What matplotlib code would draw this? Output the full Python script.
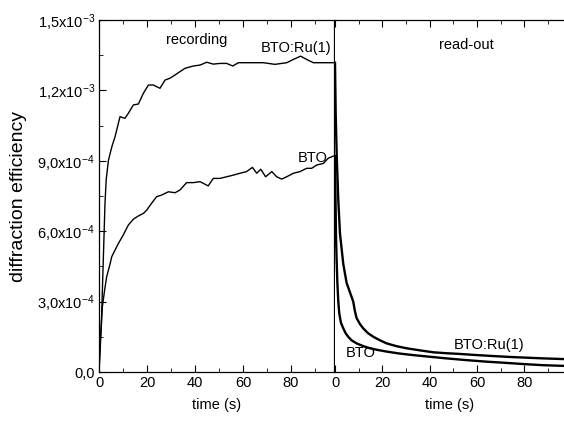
import numpy as np
import matplotlib
matplotlib.use("Agg")
import matplotlib.pyplot as plt
from matplotlib import font_manager
from matplotlib.ticker import FixedLocator, FixedFormatter, MultipleLocator

# the original uses a tall, narrow sans; take the narrow Liberation face if it is there
try:
    font_manager.findfont("Liberation Sans Narrow", fallback_to_default=False)
    fam, fs, fs_lab = "Liberation Sans Narrow", 12.5, 15
except ValueError:
    fam, fs, fs_lab = "Liberation Sans", 10.5, 14

plt.rcParams["font.family"] = [fam, "DejaVu Sans"]
plt.rcParams["mathtext.fontset"] = "custom"
plt.rcParams["mathtext.rm"] = fam
plt.rcParams["mathtext.it"] = fam
plt.rcParams["font.size"] = fs

# recording (left panel), values in units of 1e-3
rec_t_ru = [0, 0.5, 1.0, 1.5, 2.0, 2.5, 3.0, 3.9, 4.6, 5.5, 6.7, 8.75, 10.8, 12.2, 14.3,
            16.4, 18.5, 20.6, 22.6, 25.4, 27.5, 29.6, 31.7, 35.8, 39.3, 42.1, 44.9,
            47.6, 50.4, 53.2, 55.7, 58.1, 62.9, 68.5, 73.3, 78.2, 81.0, 84.0, 86.5,
            89.3, 93.5, 97.6]
rec_v_ru = [0, 0.10, 0.20, 0.38, 0.55, 0.72, 0.82, 0.90, 0.93, 0.965, 1.003, 1.088,
            1.081, 1.102, 1.138, 1.142, 1.188, 1.223, 1.223, 1.209, 1.244, 1.252,
            1.266, 1.294, 1.304, 1.308, 1.320, 1.312, 1.315, 1.315, 1.304, 1.318,
            1.318, 1.318, 1.311, 1.318, 1.332, 1.346, 1.332, 1.318, 1.318, 1.318]

rec_t_bto = [0, 0.5, 1.4, 2.5, 3.2, 4.6, 5.3, 6.7, 8.1, 10.1, 12.2, 14.3, 16.4, 18.5,
             19.9, 21.9, 24.0, 26.1, 28.9, 31.7, 33.8, 36.5, 39.3, 42.1, 45.5, 47.6,
             50.4, 53.2, 56.0, 58.75, 61.5, 63.9, 65.7, 67.4, 69.4, 72.0, 74.0, 76.1,
             78.2, 81.0, 83.75, 86.5, 88.6, 90.7, 93.5, 95.5, 97.6]
rec_v_bto = [0, 0.13, 0.278, 0.36, 0.406, 0.46, 0.491, 0.52, 0.548, 0.584, 0.626,
             0.651, 0.665, 0.676, 0.690, 0.719, 0.747, 0.754, 0.768, 0.764, 0.776,
             0.807, 0.807, 0.811, 0.793, 0.825, 0.825, 0.832, 0.839, 0.847, 0.854,
             0.872, 0.847, 0.864, 0.832, 0.854, 0.832, 0.822, 0.832, 0.847, 0.854,
             0.868, 0.868, 0.882, 0.889, 0.911, 0.920]

# read-out (right panel)
read_t_ru = [0, 0.3, 0.7, 1.4, 2.1, 3.5, 4.9, 6.3, 7.0, 7.7, 8.4, 9.1, 10.5, 11.9, 14,
             16.2, 19, 21.8, 26, 30.3, 36, 41.5, 47, 52.7, 60, 66.8, 74, 80.9, 88, 96.7]
read_v_ru = [1.318, 1.10, 0.93, 0.73, 0.59, 0.46, 0.38, 0.34, 0.32, 0.30, 0.26, 0.23,
             0.205, 0.186, 0.165, 0.150, 0.135, 0.122, 0.110, 0.101, 0.092, 0.084,
             0.080, 0.077, 0.072, 0.068, 0.064, 0.061, 0.058, 0.055]

read_t_bto = [0, 0.2, 0.4, 0.7, 1.0, 1.4, 1.8, 2.5, 3.5, 4.5, 5.6, 7, 9.1, 12, 14.8, 18,
              21.8, 27, 33, 40, 47.1, 55, 64, 72, 80.9, 88, 96.7]
read_v_bto = [0.92, 0.75, 0.59, 0.47, 0.38, 0.30, 0.25, 0.21, 0.186, 0.165, 0.150,
              0.135, 0.122, 0.110, 0.101, 0.094, 0.087, 0.079, 0.072, 0.065, 0.058,
              0.051, 0.044, 0.039, 0.033, 0.029, 0.026]

y_ticks = [0, 3e-4, 6e-4, 9e-4, 1.2e-3, 1.5e-3]
y_labels = ["0,0", "3,0x10$^{-4}$", "6,0x10$^{-4}$", "9,0x10$^{-4}$",
            "1,2x10$^{-3}$", "1,5x10$^{-3}$"]
x_ticks = [0, 20, 40, 60, 80]

fig = plt.figure(figsize=(5.64, 4.32), dpi=100)
ax1 = fig.add_axes([99 / 564, 60 / 432, 235 / 564, 352 / 432])
ax2 = fig.add_axes([335 / 564, 60 / 432, 229 / 564, 352 / 432])

ax1.plot(rec_t_ru, np.array(rec_v_ru) * 1e-3, color="black", lw=1.0)
ax1.plot(rec_t_bto, np.array(rec_v_bto) * 1e-3, color="black", lw=1.0)
ax2.plot(read_t_ru, np.array(read_v_ru) * 1e-3, color="black", lw=1.7)
ax2.plot(read_t_bto, np.array(read_v_bto) * 1e-3, color="black", lw=1.7)

for ax in (ax1, ax2):
    ax.set_ylim(0, 1.5e-3)
    ax.xaxis.set_major_locator(FixedLocator(x_ticks))
    ax.xaxis.set_minor_locator(MultipleLocator(10))
    ax.tick_params(axis="x", which="both", direction="in", top=True, pad=3)
    ax.tick_params(which="major", length=5)
    ax.tick_params(which="minor", length=3)
    ax.set_xlabel("time (s)", labelpad=6)
    for s in ax.spines.values():
        s.set_linewidth(0.9)

ax1.set_xlim(0, 97.9)
ax2.set_xlim(0, 96.7)

ax1.yaxis.set_major_locator(FixedLocator(y_ticks))
ax1.yaxis.set_major_formatter(FixedFormatter(y_labels))
ax1.yaxis.set_minor_locator(MultipleLocator(1.5e-4))
ax1.tick_params(axis="y", which="both", direction="in", right=False, pad=3)
ax1.set_ylabel("diffraction efficiency", fontsize=fs_lab)
ax1.yaxis.set_label_coords(-0.305, 0.5)

ax2.spines["left"].set_visible(False)
ax2.spines["right"].set_visible(False)
ax2.tick_params(axis="y", which="both", left=False, right=False, labelleft=False)

ax1.text(40.8, 1.415e-3, "recording", ha="center", va="center")
ax1.text(82, 1.381e-3, "BTO:Ru(1)", ha="center", va="center")
ax1.text(95.4, 0.91e-3, "BTO", ha="right", va="center")
ax2.text(55.3, 1.393e-3, "read-out", ha="center", va="center")
ax2.text(65, 0.115e-3, "BTO:Ru(1)", ha="center", va="center")
ax2.text(10.8, 0.083e-3, "BTO", ha="center", va="center")

fig.savefig("out.png", dpi=100)
